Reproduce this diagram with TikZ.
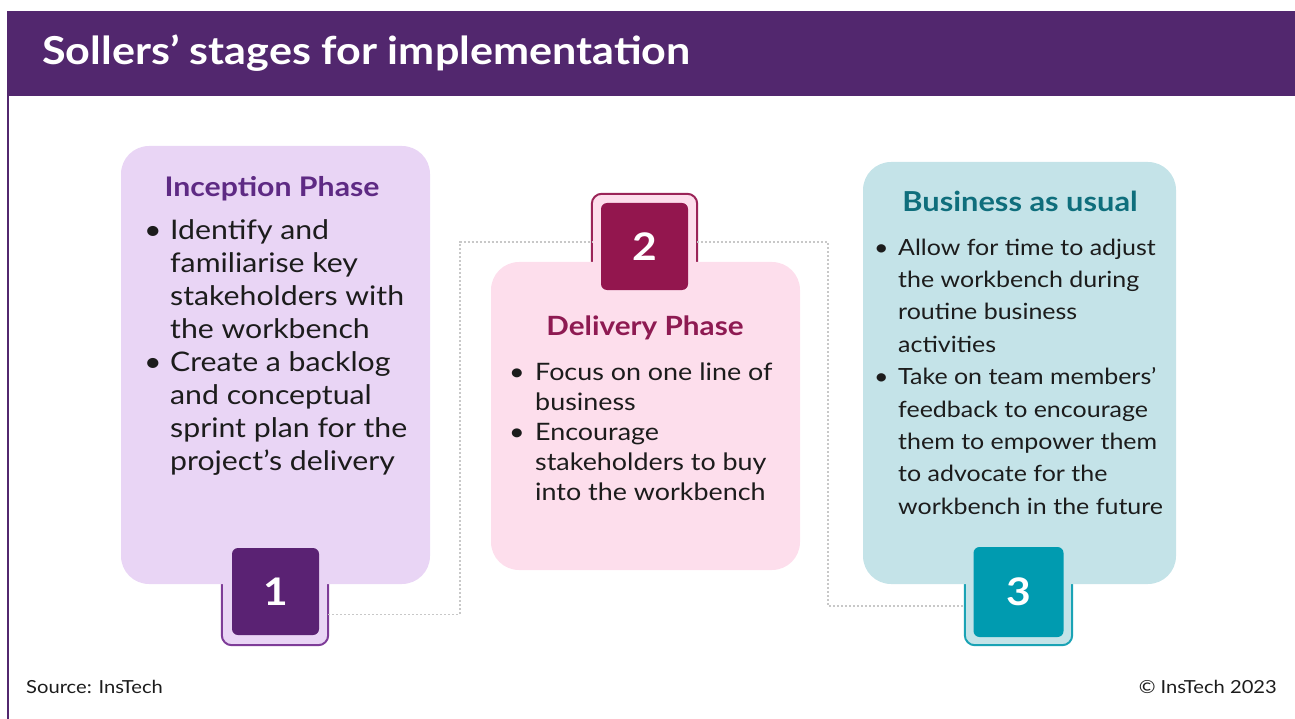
\documentclass[tikz,border=0pt]{standalone}
\usepackage{fontspec}
\setmainfont{Lato}[FakeStretch=1.12]
\usetikzlibrary{positioning}

\definecolor{bandpurple}{HTML}{52276E}
\definecolor{inkdark}{HTML}{1C1C1C}
\definecolor{linkgray}{HTML}{C8C8C8}
% phase one
\definecolor{incfill}{HTML}{E9D5F5}
\definecolor{incdark}{HTML}{5A2273}
\definecolor{incedge}{HTML}{7E3C98}
\definecolor{inchead}{HTML}{5E2A84}
% phase two
\definecolor{delfill}{HTML}{FDDEEC}
\definecolor{deldark}{HTML}{93164E}
\definecolor{deledge}{HTML}{9B2458}
\definecolor{delhead}{HTML}{8E1A52}
% phase three
\definecolor{busfill}{HTML}{C4E3E8}
\definecolor{busdark}{HTML}{009BB0}
\definecolor{busedge}{HTML}{1AA3B5}
\definecolor{bushead}{HTML}{0F6E7C}

\tikzset{
  phase/.style={rectangle, rounded corners=28pt, inner sep=0pt},
  numbox/.style={rectangle, rounded corners=6pt, inner sep=0pt,
    minimum width=87pt, minimum height=87pt, text=white,
    font=\fontsize{38}{38}\selectfont\bfseries},
  frame/.style={rectangle, inner sep=0pt},
  rim/.style={line width=2pt, rounded corners=10pt},
  link/.style={draw=linkgray, line width=1.3pt, dash pattern=on 2pt off 2pt},
  heading/.style={anchor=base, inner sep=0pt},
  points/.style={anchor=base west, inner sep=0pt, align=left, text=inkdark},
}

\begin{document}
\begin{tikzpicture}[x=1pt,y=-1pt]
  \useasboundingbox (0,0) rectangle (1295,719);

  % title band and left rule
  \fill[bandpurple] (7,11) rectangle (1295,96);
  \draw[bandpurple, line width=1.5pt] (8,96) -- (8,719);
  \node[anchor=base west, inner sep=0pt, text=white,
    font=\fontsize{38.5}{38.5}\selectfont\bfseries] (title) at (42,65)
    {Sollers’ stages for implementation};

  % frames behind the numbers
  \node[frame, minimum width=106pt, minimum height=61pt] (frame1) at (275,614.5) {};
  \node[frame, minimum width=105pt, minimum height=68pt] (frame2) at (644.5,228) {};
  \node[frame, minimum width=107pt, minimum height=61pt] (frame3) at (1018.5,614.5) {};
  \draw[rim, draw=incedge, fill=incfill]
    (frame1.north west) -- (frame1.south west) -- (frame1.south east) -- (frame1.north east);
  \draw[rim, draw=deledge, fill=delfill]
    (frame2.south west) -- (frame2.north west) -- (frame2.north east) -- (frame2.south east);
  \draw[rim, draw=busedge, fill=busfill]
    (frame3.north west) -- (frame3.south west) -- (frame3.south east) -- (frame3.north east);

  % dotted path between the stages
  \coordinate (turn1) at (460,242);
  \coordinate (turn2) at (828,606);
  \draw[link] (frame1.east) -| (turn1) -- (turn1 -| frame2.west);
  \draw[link] (frame2.east |- turn1) -| (turn2) -- (turn2 -| frame3.west);

  % stage boxes
  \node[phase, fill=incfill, minimum width=309pt, minimum height=438pt] (inception) at (275.5,365) {};
  \node[phase, fill=delfill, minimum width=309pt, minimum height=308pt] (delivery) at (645.5,416) {};
  \node[phase, fill=busfill, minimum width=313pt, minimum height=422pt] (business) at (1019.5,373) {};

  \node[numbox, fill=incdark] (num1) at (275.5,591.5) {1};
  \node[numbox, fill=deldark] (num2) at (644.5,246.5) {2};
  \node[numbox, fill=busdark, minimum width=90pt, minimum height=90pt] (num3) at (1018.5,592) {3};

  % headings
  \node[heading, text=inchead, font=\fontsize{27}{27}\selectfont\bfseries] (head1) at (272,197) {Inception Phase};
  \node[heading, text=delhead, font=\fontsize{26.5}{26.5}\selectfont\bfseries] (head2) at (645,335) {Delivery Phase};
  \node[heading, text=bushead, font=\fontsize{27.5}{27.5}\selectfont\bfseries] (head3) at (1020,212) {Business as usual};

  % bullet points
  \node[points, font=\fontsize{27}{33}\selectfont] (items1) at (144,240) {%
    \begin{tabular}[t]{@{}p{26pt}@{}l@{}}
      \textbullet & Identify and\\
                  & familiarise key\\
                  & stakeholders with\\
                  & the workbench\\
      \textbullet & Create a backlog\\
                  & and conceptual\\
                  & sprint plan for the\\
                  & project's delivery
    \end{tabular}};
  \node[points, font=\fontsize{24}{30}\selectfont] (items2) at (509,380) {%
    \begin{tabular}[t]{@{}p{26pt}@{}l@{}}
      \textbullet & Focus on one line of\\
                  & business\\
      \textbullet & Encourage\\
                  & stakeholders to buy\\
                  & into the workbench
    \end{tabular}};
  \node[points, font=\fontsize{22.3}{32.4}\selectfont] (items3) at (874,255) {%
    \begin{tabular}[t]{@{}p{24pt}@{}l@{}}
      \textbullet & Allow for time to adjust\\
                  & the workbench during\\
                  & routine business\\
                  & activities\\
      \textbullet & Take on team members'\\
                  & feedback to encourage\\
                  & them to empower them\\
                  & to advocate for the\\
                  & workbench in the future
    \end{tabular}};

  % footer
  \node[anchor=base west, inner sep=0pt, text=inkdark, font=\fontsize{18}{18}\selectfont] (source) at (26,693) {Source: InsTech};
  \node[anchor=base east, inner sep=0pt, text=inkdark, font=\fontsize{18}{18}\selectfont] (copy) at (1277,693) {© InsTech 2023};
\end{tikzpicture}
\end{document}
